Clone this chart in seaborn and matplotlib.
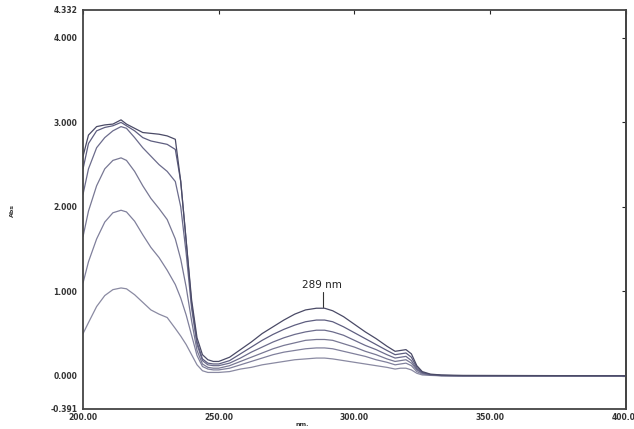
import numpy as np
import pandas as pd
import matplotlib
matplotlib.use("Agg")
import matplotlib.pyplot as plt
import seaborn as sns

# wavelengths (nm) and absorbance of six standard solutions
wl = [200, 202, 205, 208, 211, 214, 216, 219, 222, 225, 228, 231, 234, 236, 238, 240,
      242, 244, 246, 248, 250, 254, 258, 262, 266, 270, 274, 278, 282, 286, 289, 292,
      296, 300, 304, 308, 312, 315, 317, 319, 321, 323, 325, 328, 332, 340, 400]

s1 = [0.50, 0.63, 0.82, 0.95, 1.02, 1.04, 1.03, 0.96, 0.87, 0.78, 0.73, 0.69, 0.56, 0.47, 0.37, 0.25,
      0.13, 0.06, 0.04, 0.04, 0.04, 0.05, 0.08, 0.10, 0.13, 0.15, 0.17, 0.19, 0.20, 0.21, 0.21, 0.20,
      0.18, 0.16, 0.14, 0.12, 0.10, 0.08, 0.09, 0.09, 0.07, 0.03, 0.01, 0.005, 0.0, 0.0, 0.0]
s2 = [1.10, 1.35, 1.62, 1.82, 1.93, 1.96, 1.94, 1.83, 1.67, 1.52, 1.40, 1.25, 1.08, 0.92, 0.72, 0.48,
      0.24, 0.11, 0.08, 0.07, 0.07, 0.09, 0.13, 0.17, 0.21, 0.25, 0.28, 0.30, 0.32, 0.33, 0.33, 0.32,
      0.29, 0.26, 0.23, 0.19, 0.16, 0.13, 0.14, 0.15, 0.12, 0.05, 0.02, 0.008, 0.002, 0.0, 0.0]
s3 = [1.65, 1.95, 2.25, 2.45, 2.55, 2.58, 2.55, 2.42, 2.25, 2.10, 1.98, 1.85, 1.62, 1.38, 1.05, 0.65,
      0.30, 0.14, 0.10, 0.09, 0.09, 0.12, 0.17, 0.22, 0.27, 0.32, 0.36, 0.39, 0.42, 0.43, 0.43, 0.42,
      0.38, 0.34, 0.29, 0.25, 0.20, 0.17, 0.18, 0.19, 0.15, 0.07, 0.03, 0.01, 0.003, 0.0, 0.0]
s4 = [2.15, 2.45, 2.70, 2.82, 2.90, 2.95, 2.93, 2.82, 2.70, 2.60, 2.50, 2.42, 2.30, 2.00, 1.45, 0.80,
      0.37, 0.18, 0.13, 0.12, 0.12, 0.15, 0.21, 0.28, 0.34, 0.40, 0.45, 0.49, 0.52, 0.54, 0.54, 0.52,
      0.48, 0.42, 0.36, 0.31, 0.25, 0.21, 0.22, 0.23, 0.18, 0.08, 0.035, 0.012, 0.004, 0.0, 0.0]
s5 = [2.45, 2.75, 2.90, 2.94, 2.96, 3.00, 2.96, 2.90, 2.82, 2.78, 2.76, 2.74, 2.68, 2.30, 1.60, 0.85,
      0.40, 0.20, 0.15, 0.14, 0.14, 0.18, 0.26, 0.34, 0.42, 0.49, 0.55, 0.60, 0.64, 0.66, 0.66, 0.64,
      0.58, 0.51, 0.44, 0.37, 0.30, 0.25, 0.26, 0.27, 0.22, 0.10, 0.04, 0.015, 0.005, 0.0, 0.0]
s6 = [2.60, 2.85, 2.95, 2.97, 2.98, 3.03, 2.98, 2.93, 2.88, 2.87, 2.86, 2.84, 2.80, 2.30, 1.60, 0.90,
      0.45, 0.25, 0.19, 0.17, 0.17, 0.22, 0.31, 0.40, 0.50, 0.58, 0.66, 0.73, 0.78, 0.80, 0.80, 0.77,
      0.70, 0.61, 0.52, 0.44, 0.35, 0.29, 0.30, 0.31, 0.26, 0.12, 0.05, 0.02, 0.01, 0.005, 0.0]

series = {"s1": s1, "s2": s2, "s3": s3, "s4": s4, "s5": s5, "s6": s6}
colors = ["#8a8aa2", "#80809c", "#787894", "#6c6c8c", "#5e5e80", "#4a4a66"]

yticks = [-0.391, 0.0, 1.0, 2.0, 3.0, 4.0, 4.332]
ytick_labels = ["-0.391", "0.000", "1.000", "2.000", "3.000", "4.000", "4.332"]
xticks = [200, 250, 300, 350, 400]
xtick_labels = ["200.00", "250.00", "300.00", "350.00", "400.00"]

rows = []
for name, vals in series.items():
    for w, a in zip(wl, vals):
        rows.append({"nm": w, "Abs": a, "sample": name})
df = pd.DataFrame(rows)

sns.set_style("white")
plt.rcParams["font.family"] = ["DejaVu Sans"]

fig = plt.figure(figsize=(6.34, 4.29), dpi=100)
ax = fig.add_axes([0.131, 0.047, 0.856, 0.930])

sns.lineplot(data=df, x="nm", y="Abs", hue="sample", palette=colors,
             estimator=None, sort=False, linewidth=0.9, legend=False, ax=ax)

ax.set_xlim(200, 400)
ax.set_ylim(-0.391, 4.332)
ax.set_yticks(yticks)
ax.set_yticklabels(ytick_labels, fontsize=5.5, fontweight="bold", color="#333333")
ax.set_xticks(xticks)
ax.set_xticklabels(xtick_labels, fontsize=5.5, fontweight="bold", color="#333333")
ax.tick_params(axis="y", direction="out", length=3, width=0.8, pad=1)
ax.tick_params(axis="x", direction="in", length=3, width=0.8, pad=3, top=True)
for sp in ax.spines.values():
    sp.set_color("#444444")
    sp.set_linewidth(1.3)

# inward ticks on the right frame, no labels
right = ax.secondary_yaxis("right")
right.set_yticks([0.0, 1.0, 2.0, 3.0, 4.0])
right.set_yticklabels([])
right.tick_params(direction="in", length=3, width=0.8)
right.spines["right"].set_color("#444444")
right.spines["right"].set_linewidth(1.3)

ax.set_xlabel("")
ax.set_ylabel("")
fig.text(0.477, 0.004, "nm.", fontsize=4.5, fontweight="bold", ha="center", va="bottom", color="#333333")
fig.text(0.02, 0.51, "Abs", fontsize=4.5, fontweight="bold", rotation=90, ha="center", va="center", color="#333333")

# peak marker
ax.plot([288.5, 288.5], [0.81, 0.99], color="#333333", linewidth=0.8)
ax.text(288, 1.02, "289 nm", fontsize=7.5, ha="center", va="bottom", color="#222222")

fig.savefig("out.png", dpi=100)
